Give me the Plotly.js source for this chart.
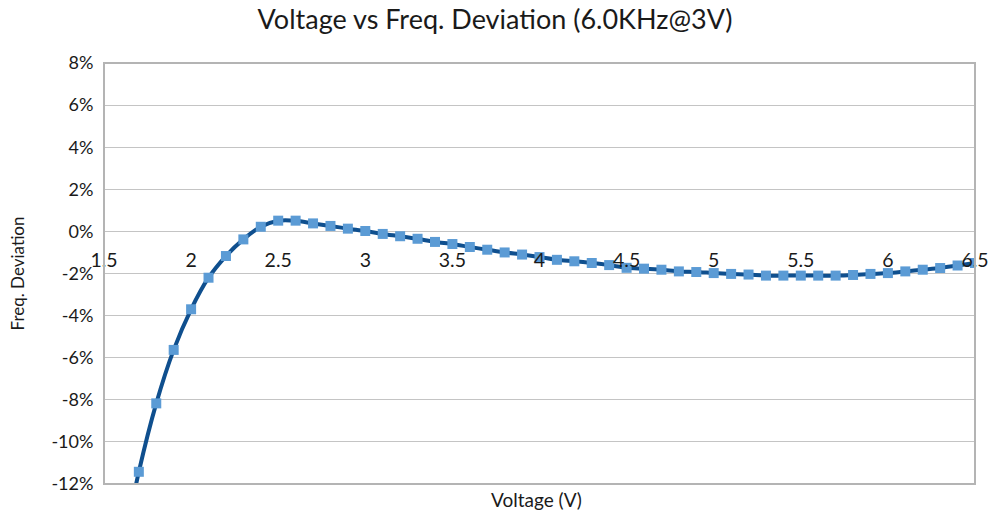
<!DOCTYPE html>
<html>
<head>
<meta charset="utf-8">
<script src="https://cdn.plot.ly/plotly-3.0.1.min.js"></script>
<style>html,body{margin:0;padding:0;background:#fff;}#chart{width:994px;height:516px;}</style>
</head>
<body>
<div id="chart"></div>
<script>
// Voltage (V)
var voltage = [1.6, 1.7, 1.8, 1.9, 2.0, 2.1, 2.2, 2.3, 2.4, 2.5, 2.6, 2.7, 2.8, 2.9, 3.0,
  3.1, 3.2, 3.3, 3.4, 3.5, 3.6, 3.7, 3.8, 3.9, 4.0, 4.1, 4.2, 4.3, 4.4, 4.5,
  4.6, 4.7, 4.8, 4.9, 5.0, 5.1, 5.2, 5.3, 5.4, 5.5, 5.6, 5.7, 5.8, 5.9, 6.0,
  6.1, 6.2, 6.3, 6.4, 6.5];
// Frequency deviation (fraction)
var deviation = [-0.155, -0.1142, -0.0817, -0.0563, -0.0370, -0.0220, -0.0117, -0.0038, 0.0022, 0.0051, 0.0051,
  0.0038, 0.0026, 0.0013, 0.0002, -0.0012, -0.0023, -0.0035, -0.0050, -0.0060,
  -0.0074, -0.0087, -0.0100, -0.0110, -0.0122, -0.0135, -0.0142, -0.0150, -0.0160,
  -0.0173, -0.0177, -0.0182, -0.0190, -0.0193, -0.0198, -0.0202, -0.0205, -0.0210,
  -0.0210, -0.0210, -0.0210, -0.0210, -0.0207, -0.0202, -0.0198, -0.0190, -0.0182,
  -0.0174, -0.0162, -0.0150];
var xTicks = [1.5, 2, 2.5, 3, 3.5, 4, 4.5, 5, 5.5, 6, 6.5];
var yTicks = [-0.12, -0.10, -0.08, -0.06, -0.04, -0.02, 0, 0.02, 0.04, 0.06, 0.08];

var FONT = 'Lato, "Open Sans", sans-serif';
var yMin = -0.12, yMax = 0.08;
var zeroPos = (0 - yMin) / (yMax - yMin);

var trace = {
  x: voltage, y: deviation, type: 'scatter', mode: 'lines+markers',
  line: {color: '#0f4f8e', width: 4, shape: 'spline', smoothing: 0.8},
  marker: {symbol: 'square', size: 10, color: '#5b9bd5', line: {width: 0}},
  cliponaxis: true, hoverinfo: 'skip'
};

var layout = {
  width: 994, height: 516,
  margin: {l: 104, r: 19, t: 63, b: 32},
  paper_bgcolor: '#fff', plot_bgcolor: '#fff',
  showlegend: false,
  title: {text: 'Voltage vs Freq. Deviation (6.0KHz@3V)', x: 0.498, xanchor: 'center', y: 0.962, yanchor: 'middle',
          font: {family: FONT, size: 27, color: '#1a1a1a'}},
  xaxis: {
    range: [1.5, 6.5], tickvals: xTicks, ticktext: xTicks.map(String),
    anchor: 'free', position: zeroPos,
    showgrid: false, zeroline: false, showline: false,
    ticks: 'outside', ticklen: 11, tickcolor: 'rgba(0,0,0,0)',
    tickfont: {family: FONT, size: 19.5, color: '#1a1a1a'}
  },
  yaxis: {
    range: [yMin, yMax], tickvals: yTicks,
    ticktext: yTicks.map(function(v){return Math.round(v*100) + '%';}),
    showgrid: true, gridcolor: '#c4c4c4', gridwidth: 1, zeroline: false,
    showline: false, ticks: 'outside', ticklen: 6, tickcolor: 'rgba(0,0,0,0)',
    tickfont: {family: FONT, size: 18, color: '#1a1a1a'},
    title: {text: 'Freq. Deviation', font: {family: FONT, size: 17, color: '#1a1a1a'}, standoff: 22}
  },
  shapes: [{type: 'rect', xref: 'paper', yref: 'paper', x0: 0, x1: 1, y0: 0, y1: 1,
            line: {color: '#b4b4b4', width: 2}, layer: 'above'}],
  annotations: [{text: 'Voltage (V)', xref: 'paper', yref: 'paper', x: 0.497, y: 0, yanchor: 'top',
                 yshift: -2, showarrow: false, font: {family: FONT, size: 19, color: '#1a1a1a'}}]
};

Plotly.newPlot('chart', [trace], layout, {displayModeBar: false, staticPlot: true});
</script>
</body>
</html>
